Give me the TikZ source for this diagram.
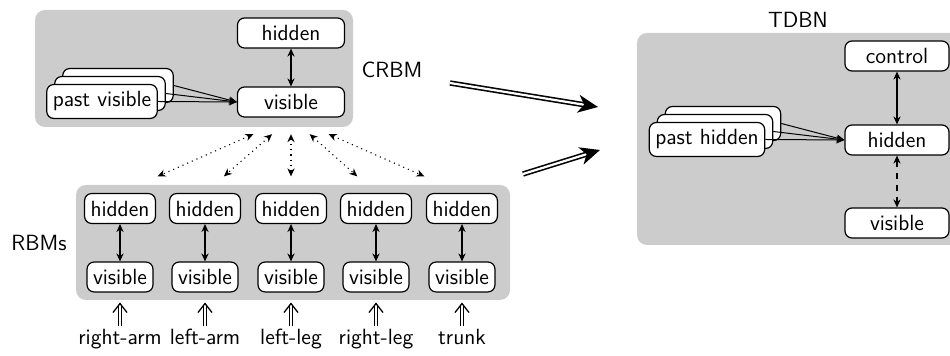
\documentclass[tikz,border=0pt]{standalone}
\usetikzlibrary{arrows.meta,calc}
\begin{document}
\begin{tikzpicture}[x=0.5pt,y=-0.5pt,font=\sffamily\fontsize{11}{13}\selectfont,
  panel/.style={fill=gray!40,rounded corners=5pt},
  unit/.style={draw,fill=white,rounded corners=3.5pt,inner xsep=3pt,inner ysep=3.6pt,line width=0.6pt},
  wideunit/.style={unit,minimum width=53.5pt,minimum height=15pt},
  link/.style={{Stealth[length=4pt,width=3.6pt]}-{Stealth[length=4pt,width=3.6pt]},line width=0.55pt},
  feed/.style={-{Stealth[length=4pt,width=3.6pt]},line width=0.5pt},
  bigarrow/.style={double,line width=0.8pt,double distance=1.1pt,-{Stealth[length=10pt,width=9pt,inset=3pt]}},
  shaft/.style={double,line width=0.5pt,double distance=1.3pt},
  chevron/.style={line width=0.65pt,line join=miter},
  lab/.style={inner sep=0pt}]
\useasboundingbox (0,0) rectangle (950,356);
% panels
\fill[panel] (35,10) rectangle (353,127);
\fill[panel] (76,185) rectangle (510,300);
\fill[panel] (637,33) rectangle (968,245);
% CRBM
\node[wideunit] (hC) at (291,33) {hidden};
\node[wideunit] (vC) at (291,102) {visible};
\node[unit] (pv3) at (118,85.5) {\phantom{past visible}};
\node[unit] (pv2) at (110,93.5) {\phantom{past visible}};
\node[unit] (pv1) at (102,101.5) {past visible};
\draw[feed] (pv3.east) -- (vC.west);
\draw[feed] (pv2.east) -- (vC.west);
\draw[feed] (pv1.east) -- (vC.west);
\draw[link] (hC) -- (vC);
\node[lab] (crbm) at (392,70) {CRBM};
% RBMs
\node[lab] (rbms) at (39,243) {RBMs};
\foreach \i/\x/\t in {1/120/right-arm,2/205/left-arm,3/291/left-leg,4/376/right-leg,5/462/trunk}{
  \node[unit] (h\i) at (\x,208.5) {hidden};
  \node[unit] (v\i) at (\x,277) {visible};
  \draw[link] (h\i) -- (v\i);
  \node[lab,anchor=base] (in\i) at (\x,345) {\t};
  \coordinate (t\i) at ($(v\i.south)+(0,11)$);
  \draw[shaft] ([yshift=1.5pt]in\i.north) -- ($(t\i)+(0,2)$);
  \draw[chevron] ($(t\i)+(-7,9)$) -- (t\i) -- ($(t\i)+(7,9)$);
  \draw[link,dotted] ($(vC.south)!0.22!(h\i.north)$) -- ($(vC.south)!0.78!(h\i.north)$);
}
% TDBN
\node[lab] (tdbn) at (798,20) {TDBN};
\node[unit,minimum width=52pt,minimum height=15pt] (cT) at (897,56) {control};
\node[unit,minimum width=52pt,minimum height=15pt] (hT) at (897,140) {hidden};
\node[unit,minimum width=52pt,minimum height=15pt] (vT) at (897,223) {visible};
\node[unit] (ph3) at (723,123.5) {\phantom{past hidden}};
\node[unit] (ph2) at (715,131.5) {\phantom{past hidden}};
\node[unit] (ph1) at (707,139.5) {past hidden};
\draw[feed] (ph3.east) -- (hT.west);
\draw[feed] (ph2.east) -- (hT.west);
\draw[feed] (ph1.east) -- (hT.west);
\draw[link] (cT) -- (hT);
\draw[link,dashed] (hT) -- (vT);
% big arrows
\coordinate (a1s) at (450,83);
\coordinate (a1e) at (598,107);
\coordinate (a2s) at (523,174);
\coordinate (a2e) at (600,150);
\draw[bigarrow] (a1s) -- (a1e);
\draw[bigarrow] (a2s) -- (a2e);
\end{tikzpicture}
\end{document}
